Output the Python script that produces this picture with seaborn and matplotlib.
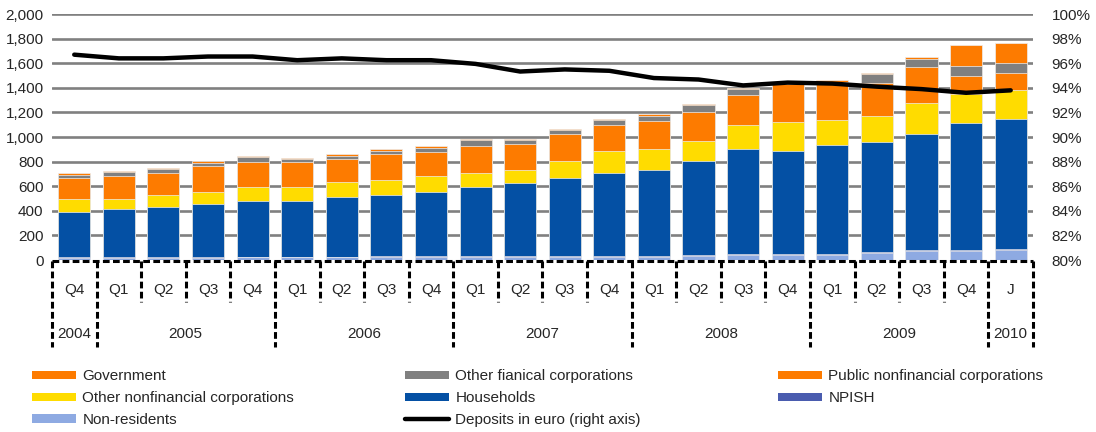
import matplotlib
matplotlib.use('Agg')
import matplotlib.pyplot as plt
from matplotlib.lines import Line2D
from matplotlib.patches import Patch
from matplotlib.ticker import FuncFormatter
import seaborn as sns
import numpy as np
import pandas as pd

# Quarter labels and the year each bar belongs to
quarters = ['Q4', 'Q1', 'Q2', 'Q3', 'Q4', 'Q1', 'Q2', 'Q3', 'Q4', 'Q1', 'Q2',
            'Q3', 'Q4', 'Q1', 'Q2', 'Q3', 'Q4', 'Q1', 'Q2', 'Q3', 'Q4', 'J']
years = ['2004'] + ['2005'] * 4 + ['2006'] * 4 + ['2007'] * 4 + \
        ['2008'] * 4 + ['2009'] * 4 + ['2010']

# Deposits by holder (stack order bottom -> top)
non_residents = [20, 20, 20, 20, 21, 21, 21, 22, 22, 22, 23, 23, 24, 28, 34, 42, 44, 44, 58, 70, 72, 82]
npish = [7, 7, 7, 7, 7, 7, 7, 7, 7, 7, 7, 7, 7, 7, 7, 9, 9, 9, 10, 10, 10, 12]
households = [360, 387, 403, 430, 456, 456, 483, 496, 522, 563, 594, 634, 676, 701, 767, 848, 835, 883, 892, 948, 1036, 1049]
other_nonfin = [113, 86, 97, 100, 108, 108, 127, 129, 130, 115, 110, 138, 181, 165, 160, 197, 232, 200, 213, 245, 229, 237]
public_nonfin = [167, 181, 178, 207, 207, 207, 180, 207, 201, 221, 208, 220, 207, 232, 235, 245, 310, 308, 270, 295, 150, 144]
other_fin = [27, 32, 35, 24, 35, 21, 29, 27, 33, 46, 32, 32, 40, 40, 56, 48, 3, 3, 68, 66, 82, 82]
government = [13, 8, 8, 14, 11, 11, 14, 13, 13, 13, 13, 14, 16, 16, 10, 6, 15, 15, 11, 16, 166, 156]

# Share of deposits in euro, % (right axis)
euro_share = [96.7, 96.4, 96.4, 96.55, 96.55, 96.25, 96.4, 96.25, 96.25, 95.95, 95.33,
              95.5, 95.39, 94.8, 94.68, 94.2, 94.43, 94.35, 94.1, 93.9, 93.6, 93.8]

series = [
    ('Non-residents', non_residents, '#8eaae2'),
    ('NPISH', npish, '#4a5caf'),
    ('Households', households, '#0450a4'),
    ('Other nonfinancial corporations', other_nonfin, '#ffdc00'),
    ('Public nonfinancial corporations', public_nonfin, '#fd7b00'),
    ('Other fianical corporations', other_fin, '#808080'),
    ('Government', government, '#fd7b00'),
]

df = pd.DataFrame({'period': [f'{y} {q}' for y, q in zip(years, quarters)]})
running = np.zeros(len(quarters))
for name, vals, _ in series:
    running = running + np.array(vals)
    df[name] = running

sns.set_style('white')
plt.rcParams['font.family'] = ['Liberation Sans', 'DejaVu Sans']
plt.rcParams['font.size'] = 11

fig = plt.figure(figsize=(10.96, 4.32), dpi=100)
ax = fig.add_axes([0.0474, 0.398, 0.8951, 0.5694])

# stacked bars: draw cumulative totals from the top series down
for name, _, color in reversed(series):
    sns.barplot(data=df, x='period', y=name, color=color, saturation=1,
                width=0.72, errorbar=None, edgecolor='#eeeeee', linewidth=0.5, ax=ax)

n = len(quarters)
ax.set_xlim(-0.5, n - 0.5)
ax.set_ylim(0, 2000)
ax.set_yticks(np.arange(0, 2001, 200))
ax.yaxis.set_major_formatter(FuncFormatter(lambda v, p: f'{v:,.0f}'))
ax.yaxis.grid(True, color='#808080', lw=1.9)
ax.get_ygridlines()[0].set_visible(False)
ax.set_axisbelow(True)
ax.tick_params(axis='y', length=0, pad=6, labelsize=11)
ax.tick_params(axis='x', length=0, labelbottom=False)
ax.set_xlabel('')
ax.set_ylabel('')
for s in ax.spines.values():
    s.set_visible(False)

# euro share line on the right axis
ax2 = ax.twinx()
sns.lineplot(x=np.arange(n), y=euro_share, color='black', lw=3.2,
             solid_capstyle='round', ax=ax2)
ax2.set_xlim(-0.5, n - 0.5)
ax2.set_ylim(80, 100)
ax2.set_yticks(np.arange(80, 101, 2))
ax2.yaxis.set_major_formatter(FuncFormatter(lambda v, p: f'{v:.0f}%'))
ax2.tick_params(axis='y', length=0, pad=13.5, labelsize=11)
ax2.set_ylabel('')
for s in ax2.spines.values():
    s.set_visible(False)

# multi-level category box under the bars (dashed)
trans = ax.get_xaxis_transform()
px = 1 / 246.0  # one pixel in axes fraction
dash = dict(color='black', lw=2.2, ls=(0, (2.2, 1.1)), clip_on=False, transform=trans)
ax.plot([-0.5, n - 0.5], [-1 * px, -1 * px], **dash)
year_edges = [i for i in range(1, n) if years[i] != years[i - 1]]
for i in range(n + 1):
    full = i in (0, n) or i in year_edges
    bottom = -87 * px if full else -42 * px
    ax.plot([i - 0.5, i - 0.5], [-1 * px, bottom], **dash)
for i, q in enumerate(quarters):
    ax.text(i, -30 * px, q, transform=trans, ha='center', va='center', fontsize=11)
for y in dict.fromkeys(years):
    idx = [i for i, v in enumerate(years) if v == y]
    ax.text(np.mean(idx), -74 * px, y, transform=trans, ha='center', va='center', fontsize=11)

# legend in three columns
colors = {name: c for name, _, c in series}
def patch(name):
    return Patch(facecolor=colors[name], edgecolor='none', label=name)

columns = [
    [patch('Government'), patch('Other nonfinancial corporations'), patch('Non-residents')],
    [patch('Other fianical corporations'), patch('Households'),
     Line2D([], [], color='black', lw=3.2, solid_capstyle='round', label='Deposits in euro (right axis)')],
    [patch('Public nonfinancial corporations'), patch('NPISH')],
]
for col, x in zip(columns, [32, 405, 778]):
    fig.legend(handles=col, loc='upper left', bbox_to_anchor=(x / 1096, 0.145),
               frameon=False, fontsize=11, handlelength=2.9, handleheight=0.5,
               handletextpad=0.4, labelspacing=0.52, borderpad=0, borderaxespad=0)

fig.savefig('out.png', dpi=100)
